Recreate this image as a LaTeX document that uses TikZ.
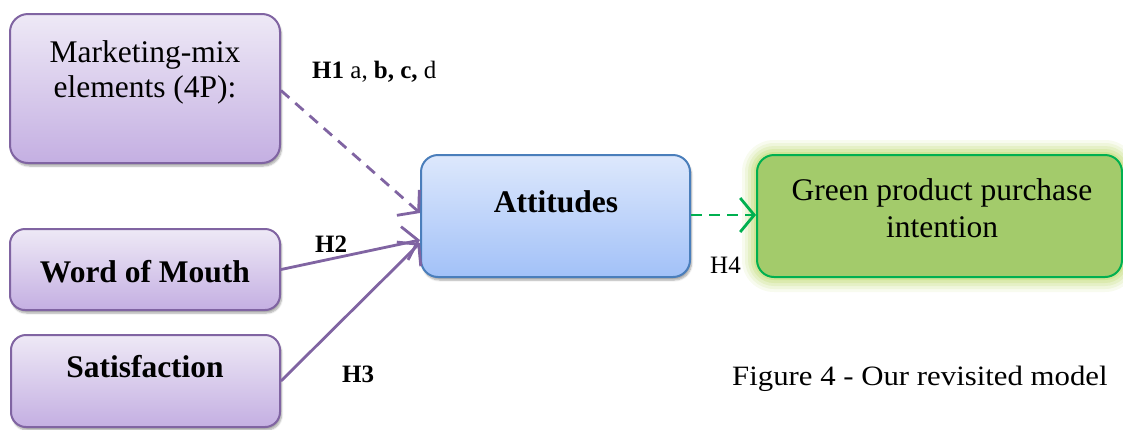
\documentclass[tikz,border=0pt]{standalone}
\usepackage{fontspec}
\setmainfont{Liberation Serif}
\newfontfamily\capfont[FakeStretch=1.1]{Liberation Serif}
\usetikzlibrary{arrows.meta,shadows.blur,calc}
\definecolor{purpborder}{HTML}{8064A2}
\definecolor{purptop}{HTML}{EEE9F6}
\definecolor{purpbot}{HTML}{C4AFE2}
\definecolor{bluetop}{HTML}{DDE8FC}
\definecolor{bluebot}{HTML}{A2C1F8}
\definecolor{blueborder}{HTML}{4A7EBB}
\definecolor{greenfill}{HTML}{A3CB6B}
\definecolor{greenborder}{HTML}{00B050}
\definecolor{glowcol}{HTML}{C2DC78}
\tikzset{
  boxbase/.style={rectangle, line width=2pt, inner sep=0pt,
    blur shadow={shadow xshift=1.5pt, shadow yshift=-3pt, shadow blur steps=6, shadow opacity=35}},
  purpbox/.style={boxbase, rounded corners=18pt, draw=purpborder, top color=purptop, bottom color=purpbot},
  bluebox/.style={boxbase, rounded corners=17pt, draw=blueborder, top color=bluetop, bottom color=bluebot},
  greenbox/.style={rectangle, line width=2pt, inner sep=0pt, rounded corners=17pt, draw=greenborder, fill=greenfill},
  boxtext/.style={font=\fontsize{31.5}{35}\selectfont, align=center, anchor=base, inner sep=0pt},
  boldtext/.style={boxtext, font=\fontsize{31.5}{35}\selectfont\bfseries},
  hlabel/.style={font=\fontsize{25}{29}\selectfont, anchor=base west, inner sep=0pt},
  tipstyle/.style={-{Straight Barb[length=14pt,width=34pt,line width=2.8pt]}},
  purparrow/.style={draw=purpborder, line width=2.8pt, tipstyle},
  greenarrow/.style={draw=greenborder, line width=2.8pt, dash pattern=on 11pt off 7pt, tipstyle},
}
\begin{document}
\begin{tikzpicture}[x=1pt,y=-1pt]
\useasboundingbox (0,0) rectangle (1123,429);
% glow for green box
\foreach \g/\op in {15/0.12,12/0.16,9/0.22,6/0.3,3/0.45}{
  \fill[glowcol, opacity=\op, rounded corners=17pt+\g pt] (757-\g,155-\g) rectangle (1122+\g,277+\g);
}
% boxes
\node[purpbox, minimum width=270pt, minimum height=149pt] (mk) at (145,88.5) {};
\node[purpbox, rounded corners=15pt, minimum width=270pt, minimum height=81pt] (wom) at (145,269.5) {};
\node[purpbox, rounded corners=15pt, minimum width=269pt, minimum height=92pt] (sat) at (145.5,381) {};
\node[bluebox, minimum width=269pt, minimum height=122pt] (att) at (555.5,216) {};
\node[greenbox, minimum width=365pt, minimum height=122pt] (gpi) at (939.5,216) {};
% texts
\node[boxtext] (mkt1) at (145,62) {Marketing-mix};
\node[boxtext] (mkt2) at (145,97) {elements (4P):};
\node[boldtext] (womt) at (145,282) {Word of Mouth};
\node[boldtext] (satt) at (145,377) {Satisfaction};
\node[boldtext] (attt) at (556,212) {Attitudes};
\node[boxtext] (gpit1) at (942,200) {Green product purchase};
\node[boxtext] (gpit2) at (942,237) {intention};
% connectors
\draw[purparrow, dash pattern=on 11pt off 8pt] ([yshift=-2pt]mk.east) -- ([yshift=3pt]att.west);
\draw[purparrow] (wom.east) -- ([yshift=-24pt]att.west);
\draw[purparrow] (sat.east) -- ([yshift=-27pt]att.west);
\draw[greenarrow] ([yshift=1pt]att.east) -- ([yshift=1pt]gpi.west);
% labels
\node[hlabel] (h1) at (312,78) {\textbf{H1} a, \textbf{b, c,} d};
\node[hlabel] (h2) at (315,252) {\textbf{H2}};
\node[hlabel] (h3) at (342,382) {\textbf{H3}};
\node[hlabel] (h4) at (710,273) {H4};
\node[anchor=base west, inner sep=0pt, font=\capfont\fontsize{28}{32}\selectfont] (cap) at (732,385) {Figure 4 - Our revisited model};
\end{tikzpicture}
\end{document}
